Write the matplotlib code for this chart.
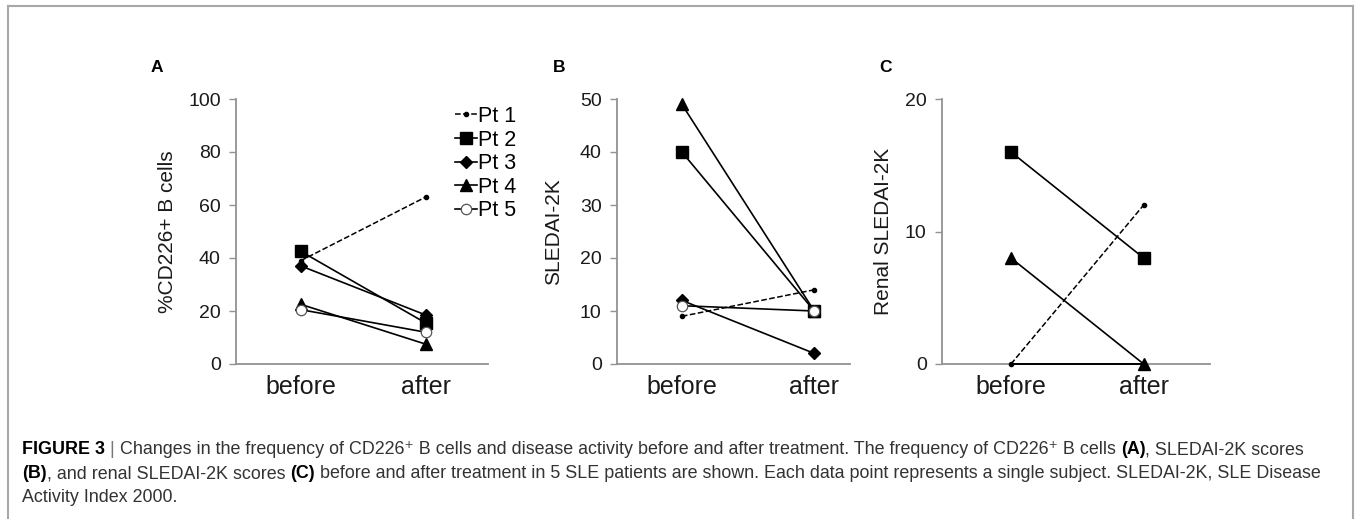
import matplotlib
matplotlib.use('Agg')
import matplotlib.pyplot as plt
from matplotlib.lines import Line2D

plt.rcParams['font.family'] = ['Liberation Sans', 'DejaVu Sans']

W, H = 1356, 519

# data
conditions = ['before', 'after']
patients = ['Pt 1', 'Pt 2', 'Pt 3', 'Pt 4', 'Pt 5']
cd226_before = [39, 42.5, 37, 22.5, 20.5]
cd226_after = [63, 15.5, 18.5, 7.5, 12]
sledai_before = [9, 40, 12, 49, 11]
sledai_after = [14, 10, 2, 10, 10]
renal_before = [0, 16, 0, 8, 0]
renal_after = [12, 8, 0, 0, 0]

# marker style per patient
styles = [
    dict(marker='o', ms=3, ls='--', lw=1.1, mfc='black', mec='black'),
    dict(marker='s', ms=8.5, ls='-', lw=1.2, mfc='black', mec='black'),
    dict(marker='D', ms=6, ls='-', lw=1.2, mfc='black', mec='black'),
    dict(marker='^', ms=8.5, ls='-', lw=1.2, mfc='black', mec='black'),
    dict(marker='o', ms=7.5, ls='-', lw=1.2, mfc='white', mec='#555555', mew=0.9),
]

SPINE = '#929292'


def px_axes(x0, x1, ytop, ybot):
    return [x0 / W, 1 - ybot / H, (x1 - x0) / W, (ybot - ytop) / H]


def style_axes(ax, ylim, yticks, xlim, ylabel, label_x):
    ax.set_ylim(*ylim)
    ax.set_xlim(*xlim)
    ax.set_yticks(yticks)
    ax.set_xticks(range(len(conditions)))
    ax.set_xticklabels(conditions, fontsize=18, color='#1a1a1a')
    ax.tick_params(axis='x', length=0, pad=8)
    ax.tick_params(axis='y', length=5, width=1, color=SPINE, labelsize=14,
                   labelcolor='#1a1a1a', pad=6)
    for s in ['top', 'right']:
        ax.spines[s].set_visible(False)
    for s in ['left', 'bottom']:
        ax.spines[s].set_color(SPINE)
        ax.spines[s].set_linewidth(1.3)
    ax.set_ylabel(ylabel, fontsize=15, color='#1a1a1a')
    ax.yaxis.set_label_coords(label_x, 0.5)


def draw_panel(ax, before, after, hide_zero_markers=False):
    for i, name in enumerate(patients):
        st = dict(styles[i])
        if hide_zero_markers and before[i] == 0 and after[i] == 0:
            st['marker'] = 'None'
        ax.plot([0, 1], [before[i], after[i]], color='black',
                clip_on=False, zorder=3, label=name, **st)


fig = plt.figure(figsize=(W / 100, H / 100), dpi=100)

# outer frame
fr = dict(color='#a8a8a8', lw=1.5, transform=fig.transFigure)
fig.add_artist(Line2D([8 / W, 8 / W], [0, 1 - 6 / H], **fr))
fig.add_artist(Line2D([8 / W, 1353 / W], [1 - 6 / H, 1 - 6 / H], **fr))
fig.add_artist(Line2D([1353 / W, 1353 / W], [0, 1 - 6 / H], **fr))

# panel A
axA = fig.add_axes(px_axes(236, 488, 99, 364))
draw_panel(axA, cd226_before, cd226_after)
style_axes(axA, (0, 100), [0, 20, 40, 60, 80, 100], (-0.52, 1.5),
           '%CD226+ B cells', -0.236)
fig.legend(*axA.get_legend_handles_labels(), loc='upper left',
           bbox_to_anchor=(455 / W, 1 - 106 / H), frameon=False,
           fontsize=15.5, handlelength=1.0, handletextpad=0.05,
           labelspacing=0.12, borderaxespad=0, borderpad=0)

# panel B
axB = fig.add_axes(px_axes(617, 850, 99, 364))
draw_panel(axB, sledai_before, sledai_after)
style_axes(axB, (0, 50), [0, 10, 20, 30, 40, 50], (-0.49, 1.27),
           'SLEDAI-2K', -0.232)

# panel C
axC = fig.add_axes(px_axes(942, 1210, 99, 364))
draw_panel(axC, renal_before, renal_after, hide_zero_markers=True)
style_axes(axC, (0, 20), [0, 10, 20], (-0.52, 1.5),
           'Renal SLEDAI-2K', -0.183)

for lab, x in [('A', 157), ('B', 559), ('C', 885)]:
    fig.text(x / W, 1 - 67 / H, lab, fontsize=12.5, fontweight='bold',
             ha='center', va='center')

# caption, drawn run by run so bold pieces sit inline
cap_lines = [
    [('FIGURE 3', 'bold', 'black'), (' | ', 'normal', '#777777'),
     ('Changes in the frequency of CD226\u207a B cells and disease activity before and after treatment. '
      'The frequency of CD226\u207a B cells ', 'normal', '#333333'),
     ('(A)', 'bold', 'black'), (', SLEDAI-2K scores', 'normal', '#333333')],
    [('(B)', 'bold', 'black'), (', and renal SLEDAI-2K scores ', 'normal', '#333333'),
     ('(C)', 'bold', 'black'),
     (' before and after treatment in 5 SLE patients are shown. Each data point represents a single subject. '
      'SLEDAI-2K, SLE Disease', 'normal', '#333333')],
    [('Activity Index 2000.', 'normal', '#333333')],
]
cap_y = [450, 474, 497]

renderer = fig.canvas.get_renderer()
for runs, y in zip(cap_lines, cap_y):
    x = 22
    for txt, weight, color in runs:
        t = fig.text(x / W, 1 - y / H, txt, fontsize=12.9, fontweight=weight,
                     color=color, ha='left', va='center')
        x += t.get_window_extent(renderer).width

fig.savefig('out.png', dpi=100)
